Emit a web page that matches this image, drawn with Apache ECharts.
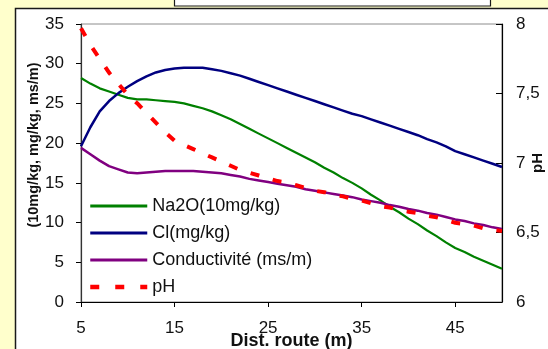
<!DOCTYPE html>
<html>
<head>
<meta charset="utf-8">
<script src="https://cdn.jsdelivr.net/npm/echarts@6/dist/echarts.min.js"></script>
<style>
  html, body { margin: 0; padding: 0; background: #FFFFCC; }
  #chart { width: 548px; height: 349px; }
</style>
</head>
<body>
<div id="chart"></div>
<script>
// Distance along the road (m)
const distances = [5,6,7,8,9,10,11,12,13,14,15,16,17,18,19,20,21,22,23,24,25,26,27,28,29,30,31,32,33,34,35,36,37,38,39,40,41,42,43,44,45,46,47,48,49,50];
// Na2O (10 mg/kg)
const na2o = [28.2,27.5,26.9,26.5,26.1,25.7,25.5,25.5,25.4,25.3,25.2,25.0,24.7,24.4,24.0,23.5,23.0,22.4,21.8,21.2,20.6,20.0,19.4,18.8,18.2,17.6,16.9,16.3,15.6,15.0,14.3,13.5,12.8,12.0,11.3,10.5,9.8,9.0,8.3,7.5,6.8,6.3,5.7,5.2,4.7,4.2];
// Cl (mg/kg)
const cl = [19.6,22.0,24.0,25.3,26.3,27.1,27.8,28.4,28.9,29.2,29.4,29.5,29.5,29.5,29.3,29.1,28.8,28.5,28.1,27.7,27.3,26.9,26.5,26.1,25.7,25.3,24.9,24.5,24.1,23.7,23.4,23.0,22.6,22.2,21.8,21.4,21.0,20.5,20.1,19.6,19.0,18.6,18.2,17.8,17.4,17.0];
// Conductivité (ms/m)
const conductivite = [19.4,18.6,17.8,17.1,16.7,16.3,16.2,16.3,16.4,16.5,16.5,16.5,16.5,16.4,16.3,16.2,16.0,15.8,15.5,15.3,15.1,14.9,14.7,14.5,14.2,14.0,13.8,13.6,13.4,13.2,12.9,12.7,12.5,12.2,12.0,11.7,11.5,11.2,11.0,10.7,10.4,10.2,9.9,9.7,9.4,9.2];
// pH (right axis)
const ph = [7.97,7.85,7.75,7.65,7.57,7.49,7.43,7.36,7.29,7.22,7.16,7.13,7.10,7.07,7.04,7.01,6.98,6.95,6.93,6.91,6.89,6.87,6.86,6.84,6.82,6.80,6.79,6.77,6.76,6.74,6.73,6.71,6.69,6.68,6.66,6.65,6.64,6.62,6.61,6.59,6.57,6.56,6.55,6.53,6.52,6.51];

const seriesNames = ['Na2O(10mg/kg)', 'Cl(mg/kg)', 'Conductivité (ms/m)', 'pH'];
const xTitle = 'Dist. route (m)';
const yLeftTitle = '(10mg/kg, mg/kg, ms/m)';
const yRightTitle = 'pH';

const FONT = "'Liberation Sans', Arial, sans-serif";
const pair = arr => distances.map((d, i) => [d, arr[i]]);

const chart = echarts.init(document.getElementById('chart'), null, { renderer: 'canvas' });
chart.setOption({
  backgroundColor: '#FFFFCC',
  animation: false,
  textStyle: { fontFamily: FONT },
  graphic: [
    { type: 'rect', z: -10, shape: { x: 15.5, y: 8.5, width: 600, height: 400 },
      style: { fill: '#FFFFFF', stroke: '#1a1a1a', lineWidth: 1.5 } },
    { type: 'rect', z: -9, shape: { x: 174.5, y: -3, width: 316, height: 9 },
      style: { fill: '#FFFFFF', stroke: '#1a1a1a', lineWidth: 1.2 } }
  ],
  grid: { left: 81, top: 24, right: 46, bottom: 47, outerBoundsMode: 'none', containLabel: false,
    show: true, borderColor: '#8c8c8c', borderWidth: 1, backgroundColor: '#FFFFFF' },
  legend: {
    orient: 'vertical', left: 88, top: 197, padding: 0,
    itemWidth: 57, itemHeight: 14, itemGap: 9,
    itemStyle: { opacity: 0 },
    lineStyle: { width: 3 },
    textStyle: { fontFamily: FONT, fontSize: 18, color: '#111', padding: [0, 0, 0, 0] },
    data: [
      { name: seriesNames[0] },
      { name: seriesNames[1] },
      { name: seriesNames[2] },
      { name: seriesNames[3], lineStyle: { width: 4.5, type: [9, 16] } }
    ]
  },
  xAxis: {
    type: 'value', min: 5, max: 50, interval: 10,
    name: xTitle, nameLocation: 'middle', nameGap: 30, nameMoveOverlap: false,
    nameTextStyle: { fontFamily: FONT, fontSize: 18, fontWeight: 'bold', color: '#111' },
    axisLine: { show: true, onZero: false, lineStyle: { color: '#000', width: 1.2 } },
    axisTick: { show: true, inside: false, length: 5, lineStyle: { color: '#000' } },
    axisLabel: { fontFamily: FONT, fontSize: 17, color: '#111', margin: 18, showMaxLabel: false },
    splitLine: { show: false }
  },
  yAxis: [
    {
      type: 'value', min: 0, max: 35, interval: 5, position: 'left',
      name: yLeftTitle, nameLocation: 'middle', nameGap: 40, nameRotate: 90, nameMoveOverlap: false,
      nameTextStyle: { fontFamily: FONT, fontSize: 14.5, fontWeight: 'bold', color: '#111', padding: [0, 0, 0, 36] },
      axisLine: { show: true, lineStyle: { color: '#333', width: 1.2 } },
      axisTick: { show: true, inside: false, length: 5, lineStyle: { color: '#000' } },
      axisLabel: { fontFamily: FONT, fontSize: 17, color: '#111', margin: 17 },
      splitLine: { show: false }
    },
    {
      type: 'value', min: 6, max: 8, interval: 0.5, position: 'right',
      name: yRightTitle, nameLocation: 'middle', nameGap: 28, nameRotate: 90, nameMoveOverlap: false,
      nameTextStyle: { fontFamily: FONT, fontSize: 15, fontWeight: 'bold', color: '#111' },
      axisLine: { show: true, lineStyle: { color: '#000', width: 1.2 } },
      axisTick: { show: true, inside: true, length: 6, lineStyle: { color: '#000' } },
      axisLabel: { fontFamily: FONT, fontSize: 17, color: '#111', margin: 14,
        formatter: v => String(v).replace('.', ',') },
      splitLine: { show: false }
    }
  ],
  series: [
    { name: seriesNames[0], type: 'line', yAxisIndex: 0, data: pair(na2o), symbol: 'none',
      lineStyle: { color: '#008000', width: 2.2 }, itemStyle: { color: '#008000' } },
    { name: seriesNames[1], type: 'line', yAxisIndex: 0, data: pair(cl), symbol: 'none',
      lineStyle: { color: '#000080', width: 2.5 }, itemStyle: { color: '#000080' } },
    { name: seriesNames[2], type: 'line', yAxisIndex: 0, data: pair(conductivite), symbol: 'none',
      lineStyle: { color: '#800080', width: 2.5 }, itemStyle: { color: '#800080' } },
    { name: seriesNames[3], type: 'line', yAxisIndex: 1, data: pair(ph), symbol: 'none',
      lineStyle: { color: '#FF0000', width: 4, type: [9, 14] }, itemStyle: { color: '#FF0000' } }
  ]
});
</script>
</body>
</html>
